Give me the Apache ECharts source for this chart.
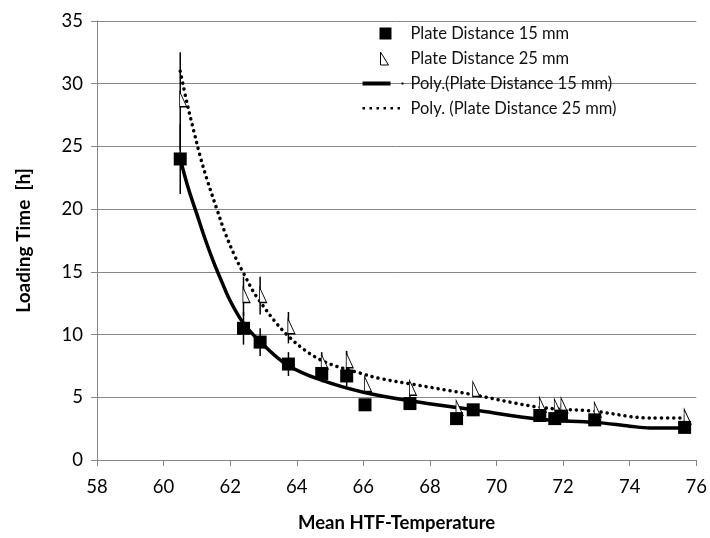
<!DOCTYPE html>
<html>
<head>
<meta charset="utf-8">
<script src="https://cdn.jsdelivr.net/npm/echarts@6/dist/echarts.min.js"></script>
<style>
  html, body { margin: 0; padding: 0; background: #fff; }
  #chart { width: 710px; height: 538px; }
</style>
</head>
<body>
<div id="chart"></div>
<script>
// measured points (x = mean HTF temperature, y = loading time)
var temps = [60.5, 62.4, 62.9, 63.75, 64.75, 65.5, 66.05, 67.4, 68.8, 69.3, 71.3, 71.75, 71.95, 72.95, 75.65];
var load15 = [24.0, 10.5, 9.4, 7.65, 6.9, 6.7, 4.4, 4.5, 3.3, 4.0, 3.55, 3.3, 3.5, 3.2, 2.6];
var err15Low = [21.2, 9.2, 8.3, 6.7, 6.2, 5.9, 4.0, 4.1, 3.0, 3.6, 3.3, 3.0, 3.2, 2.9, 2.3];
var err15High = [26.8, 11.8, 10.5, 8.6, 7.6, 7.5, 4.8, 4.9, 3.6, 4.4, 3.9, 3.6, 3.8, 3.5, 2.9];
var load25 = [28.6, 13.0, 13.0, 10.5, 7.7, 7.8, 5.9, 5.6, 4.0, 5.5, 4.25, 4.1, 4.2, 3.85, 3.3];
var err25Low = [24.7, 11.5, 11.6, 9.3, 6.9, 7.0, 5.4, 5.0, 3.7, 5.0, 3.9, 3.8, 3.9, 3.6, 3.1];
var err25High = [32.5, 14.6, 14.6, 11.8, 8.6, 8.7, 6.5, 6.2, 4.3, 6.0, 4.6, 4.4, 4.5, 4.1, 3.6];

// trendlines
var poly15X = [60.5, 60.75, 61.0, 61.25, 61.5, 61.75, 62.0, 62.4, 62.95, 63.7, 64.7, 66.0, 67.45, 69.3, 71.3, 72.95, 74.0, 74.6, 75.65];
var poly15Y = [24.0, 21.6, 19.6, 17.6, 15.8, 14.2, 12.7, 10.9, 9.3, 7.6, 6.4, 5.4, 4.7, 4.0, 3.25, 3.0, 2.7, 2.55, 2.55];
var poly25X = [60.5, 60.7, 60.9, 61.1, 61.3, 61.6, 61.85, 62.15, 62.4, 62.8, 63.7, 64.7, 66.0, 66.5, 67.45, 69.3, 71.3, 72.9, 74.6, 75.65];
var poly25Y = [31.0, 28.5, 26.3, 24.2, 22.4, 20.0, 18.1, 16.2, 14.9, 13.0, 10.0, 8.0, 6.85, 6.5, 6.05, 5.2, 4.2, 3.9, 3.35, 3.35];

var xTicks = [58, 76, 2];
var yTicks = [0, 35, 5];

var FONT = 'Lato';
var TRI = 'path://M0,0 L0,14 L6,14 Z';

function zip(a, b) {
  return a.map(function (v, i) { return [v, b[i]]; });
}
function zip3(a, b, c) {
  return a.map(function (v, i) { return [v, b[i], c[i]]; });
}

var renderErr = function (params, api) {
  var x = api.value(0);
  var p1 = api.coord([x, api.value(1)]);
  var p2 = api.coord([x, api.value(2)]);
  return {
    type: 'line',
    shape: { x1: p1[0], y1: p1[1], x2: p2[0], y2: p2[1] },
    style: { stroke: '#000', lineWidth: 1.5 }
  };
};

// legend icons: all drawn in the same 47x15 frame so nothing gets rescaled
var FRAME = ' M0,0 L0.01,0 L0.01,0.01 Z M46.99,14.99 L47,14.99 L47,15 Z';
var ICON_SQUARE = 'path://M21,1.5 L33,1.5 L33,13.5 L21,13.5 Z' + FRAME;
var ICON_TRI = 'path://M22,1 L22,14 L30,14 Z' + FRAME;
var ICON_SOLID = 'path://M4,5.5 L32,5.5 L32,9.5 L4,9.5 Z M43,6.5 L45,6.5 L45,8.5 L43,8.5 Z' + FRAME;
var ICON_DOTS = 'path://M4,6 L6.5,6 L6.5,8.5 L4,8.5 Z M11,6 L13.5,6 L13.5,8.5 L11,8.5 Z M18,6 L20.5,6 L20.5,8.5 L18,8.5 Z M25,6 L27.5,6 L27.5,8.5 L25,8.5 Z M32,6 L34.5,6 L34.5,8.5 L32,8.5 Z M39,6 L41.5,6 L41.5,8.5 L39,8.5 Z' + FRAME;

var chart = echarts.init(document.getElementById('chart'));

var option = {
  animation: false,
  backgroundColor: '#fff',
  grid: { left: 97, right: 13, top: 21, bottom: 77 },
  legend: {
    orient: 'vertical',
    left: 353,
    top: 20,
    itemGap: 8,
    itemWidth: 47,
    itemHeight: 15,
    textStyle: { fontFamily: FONT, fontSize: 16.5, color: '#111' },
    data: [
      { name: 'Plate Distance 15 mm', icon: ICON_SQUARE, itemStyle: { color: '#000', borderWidth: 0 } },
      { name: 'Plate Distance 25 mm', icon: ICON_TRI, itemStyle: { color: '#fff', borderColor: '#000', borderWidth: 1 } },
      { name: 'Poly.(Plate Distance 15 mm)', icon: ICON_SOLID, itemStyle: { color: '#000', borderWidth: 0 } },
      { name: 'Poly. (Plate Distance 25 mm)', icon: ICON_DOTS, itemStyle: { color: '#000', borderWidth: 0 } }
    ]
  },
  xAxis: {
    type: 'value',
    min: xTicks[0], max: xTicks[1], interval: xTicks[2],
    name: 'Mean HTF-Temperature',
    nameLocation: 'middle',
    nameGap: 54,
    nameTextStyle: { fontFamily: FONT, fontSize: 18.5, fontWeight: 'bold', color: '#000' },
    axisLine: { show: true, lineStyle: { color: '#868686', width: 1 } },
    axisTick: { show: true, length: 6, lineStyle: { color: '#868686' } },
    axisLabel: { fontFamily: FONT, fontSize: 18.5, color: '#000', margin: 18 },
    splitLine: { show: false }
  },
  yAxis: {
    type: 'value',
    min: yTicks[0], max: yTicks[1], interval: yTicks[2],
    name: 'Loading Time  [h]',
    nameLocation: 'middle',
    nameGap: 64,
    nameTextStyle: { fontFamily: FONT, fontSize: 19, fontWeight: 'bold', color: '#000' },
    axisLine: { show: true, lineStyle: { color: '#868686', width: 1 } },
    axisTick: { show: true, length: 6, lineStyle: { color: '#868686' } },
    axisLabel: { fontFamily: FONT, fontSize: 18.5, color: '#000', margin: 14 },
    splitLine: { show: true, lineStyle: { color: '#868686', width: 1 } }
  },
  series: [
    {
      name: 'err15', type: 'custom', renderItem: renderErr,
      data: zip3(temps, err15Low, err15High), z: 3, silent: true
    },
    {
      name: 'err25', type: 'custom', renderItem: renderErr,
      data: zip3(temps, err25Low, err25High), z: 3, silent: true
    },
    {
      name: 'Poly.(Plate Distance 15 mm)', type: 'line', smooth: 0.35,
      showSymbol: false, symbol: 'none',
      lineStyle: { color: '#000', width: 3.5 },
      itemStyle: { color: '#000' },
      data: zip(poly15X, poly15Y), z: 4
    },
    {
      name: 'Poly. (Plate Distance 25 mm)', type: 'line', smooth: 0.35,
      showSymbol: false, symbol: 'none',
      lineStyle: { color: '#000', width: 3.5, type: [0.1, 6], cap: 'round' },
      itemStyle: { color: '#000' },
      data: zip(poly25X, poly25Y), z: 4
    },
    {
      name: 'Plate Distance 25 mm', type: 'scatter',
      symbol: TRI, symbolSize: [7, 15], symbolKeepAspect: false,
      symbolOffset: [3, -2],
      itemStyle: { color: '#fff', borderColor: '#000', borderWidth: 1, opacity: 1 },
      data: zip(temps, load25), z: 5
    },
    {
      name: 'Plate Distance 15 mm', type: 'scatter',
      symbol: 'rect', symbolSize: 13,
      itemStyle: { color: '#000', opacity: 1 },
      data: zip(temps, load15), z: 6
    }
  ]
};

chart.setOption(option);
</script>
</body>
</html>
